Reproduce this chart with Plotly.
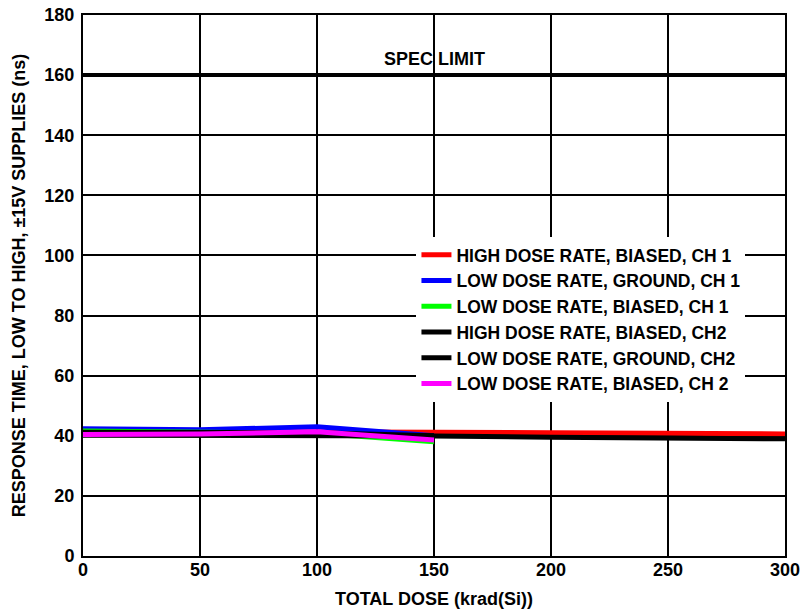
import plotly.graph_objects as go

# Total dose points (krad(Si))
dose_hdr = [0, 50, 100, 150, 200, 300]
dose_ldr = [0, 50, 100, 150]

# Response time, low to high (ns)
hdr_biased_ch1 = [41.5, 41.5, 41.5, 41.2, 41.0, 40.6]
ldr_ground_ch1 = [42.3, 42.0, 43.0, 40.0]
ldr_biased_ch1 = [41.6, 41.2, 40.8, 38.0]
hdr_biased_ch2 = [40.2, 40.2, 40.0, 39.9, 39.5, 39.0]
ldr_ground_ch2 = [41.2, 41.0, 41.0, 40.0]
ldr_biased_ch2 = [40.4, 40.6, 41.3, 38.6]

spec_limit = 160
x_ticks = [0, 50, 100, 150, 200, 250, 300]
y_ticks = [0, 20, 40, 60, 80, 100, 120, 140, 160, 180]

FONT = "Liberation Sans, Arial, sans-serif"

fig = go.Figure()

series = [
    ("HIGH DOSE RATE, BIASED, CH 1", dose_hdr, hdr_biased_ch1, "#ff0000"),
    ("LOW DOSE RATE, GROUND, CH 1", dose_ldr, ldr_ground_ch1, "#0000ff"),
    ("LOW DOSE RATE, BIASED, CH 1", dose_ldr, ldr_biased_ch1, "#00ff00"),
    ("HIGH DOSE RATE, BIASED, CH2", dose_hdr, hdr_biased_ch2, "#000000"),
    ("LOW DOSE RATE, GROUND, CH2", dose_ldr, ldr_ground_ch2, "#000000"),
    ("LOW DOSE RATE, BIASED, CH 2", dose_ldr, ldr_biased_ch2, "#ff00ff"),
]
for name, xs, ys, color in series:
    fig.add_trace(go.Scatter(x=xs, y=ys, mode="lines", name=f"<b>{name}</b>",
                             line=dict(color=color, width=5)))

# Specification limit line
fig.add_trace(go.Scatter(x=[0, 300], y=[spec_limit, spec_limit], mode="lines",
                         line=dict(color="black", width=4), showlegend=False,
                         hoverinfo="skip"))
fig.add_annotation(x=150, y=spec_limit, yshift=16, text="<b>SPEC LIMIT</b>",
                   showarrow=False, font=dict(family=FONT, size=18, color="black"))

axis_common = dict(showgrid=True, gridcolor="black", gridwidth=2,
                   showline=True, linecolor="black", linewidth=2, mirror=True,
                   zeroline=False, ticks="", automargin=False,
                   ticklabeloverflow="allow",
                   tickfont=dict(family=FONT, size=18, color="black"))

fig.update_xaxes(range=[0, 300], tickvals=x_ticks,
                 ticktext=[f"<b>{v}</b>" for v in x_ticks],
                 ticklabelstandoff=-4,
                 title=dict(text="<b>TOTAL DOSE (krad(Si))</b>", standoff=14,
                            font=dict(family=FONT, size=18, color="black")),
                 **axis_common)
fig.update_yaxes(range=[0, 180], tickvals=y_ticks,
                 ticktext=[f"<b>{v}</b>" for v in y_ticks],
                 ticklabelstandoff=3,
                 title=dict(text="<b>RESPONSE TIME, LOW TO HIGH, ±15V SUPPLIES (ns)</b>",
                            standoff=14, font=dict(family=FONT, size=18, color="black")),
                 **axis_common)

fig.update_layout(
    width=800, height=613,
    margin=dict(l=83, r=15, t=15, b=57),
    plot_bgcolor="white", paper_bgcolor="white",
    font=dict(family=FONT, size=18, color="black"),
    legend=dict(x=0.475, y=0.59, xanchor="left", yanchor="top",
                bgcolor="white", borderwidth=0, tracegroupgap=0,
                font=dict(family=FONT, size=17.5, color="black"),
                itemwidth=30),
)

fig.write_html("out.html")
